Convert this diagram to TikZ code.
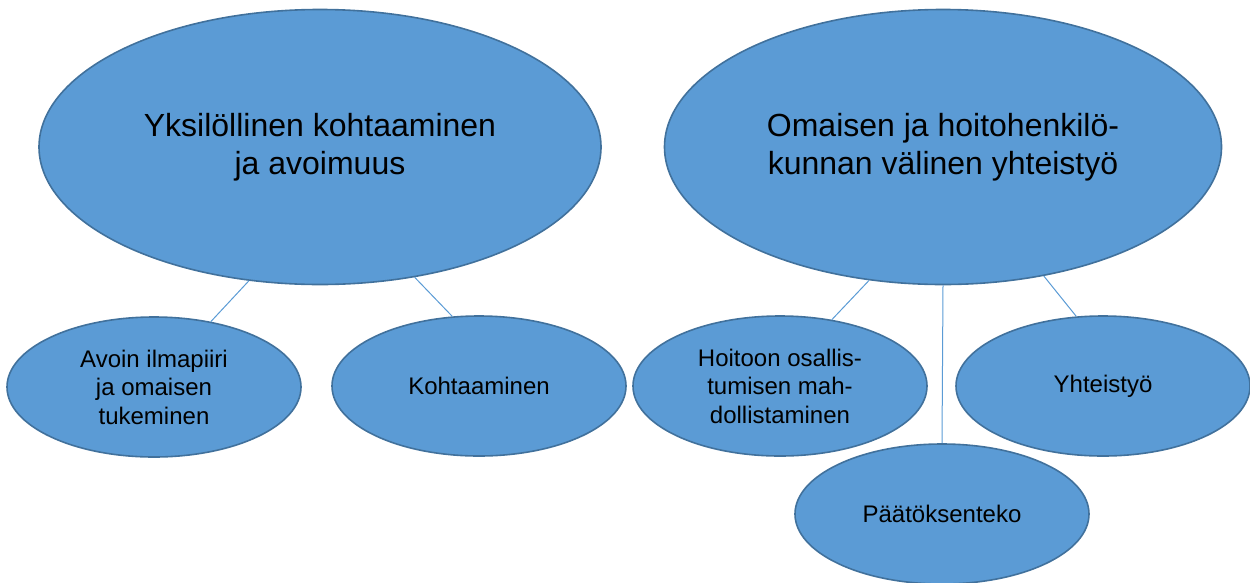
\documentclass[tikz,border=0pt]{standalone}
\usepackage{fontspec}
\setmainfont{Liberation Sans}
\usepackage{tikz}
\usetikzlibrary{shapes.geometric}

\definecolor{ovalfill}{HTML}{5B9BD5}
\definecolor{ovaledge}{HTML}{41719C}

\begin{document}
\begin{tikzpicture}[x=1pt, y=-1pt,
  bigoval/.style={ellipse, draw=ovaledge, fill=ovalfill, line width=1.6pt,
    inner sep=0pt, minimum width=562pt, minimum height=275pt, align=center,
    font=\fontsize{32}{38}\selectfont},
  smalloval/.style={ellipse, draw=ovaledge, fill=ovalfill, line width=1.6pt,
    inner sep=0pt, minimum width=294pt, minimum height=140pt, align=center,
    font=\fontsize{24}{28.5}\selectfont},
  link/.style={draw=ovalfill, line width=1pt}
]
  \useasboundingbox (0,0) rectangle (1250,582);

  % Main themes
  \node[bigoval] (yksil) at (320,147) {Yksilöllinen kohtaaminen\\ja avoimuus};
  \node[bigoval, minimum width=557pt] (omaisen) at (943,147) {Omaisen ja hoitohenkilö-\\kunnan välinen yhteistyö};

  % Sub themes
  \node[smalloval] (avoin) at (154,387) {Avoin ilmapiiri\\ja omaisen\\tukeminen};
  \node[smalloval] (kohtaa) at (479,386) {Kohtaaminen};
  \node[smalloval] (hoitoon) at (780,386) {Hoitoon osallis-\\tumisen mah-\\dollistaminen};
  \node[smalloval] (yhteis) at (1103,386) {Yhteistyö};
  \node[smalloval] (paatos) at (942,514) {Päätöksenteko};

  % Lines
  \draw[link] (yksil.242) -- (avoin.49);
  \draw[link] (yksil.306) -- (kohtaa.111);
  \draw[link] (omaisen.241) -- (hoitoon.52);
  \draw[link] (omaisen.south) -- (paatos.north);
  \draw[link] (omaisen.308) -- (yhteis.111);
\end{tikzpicture}
\end{document}
